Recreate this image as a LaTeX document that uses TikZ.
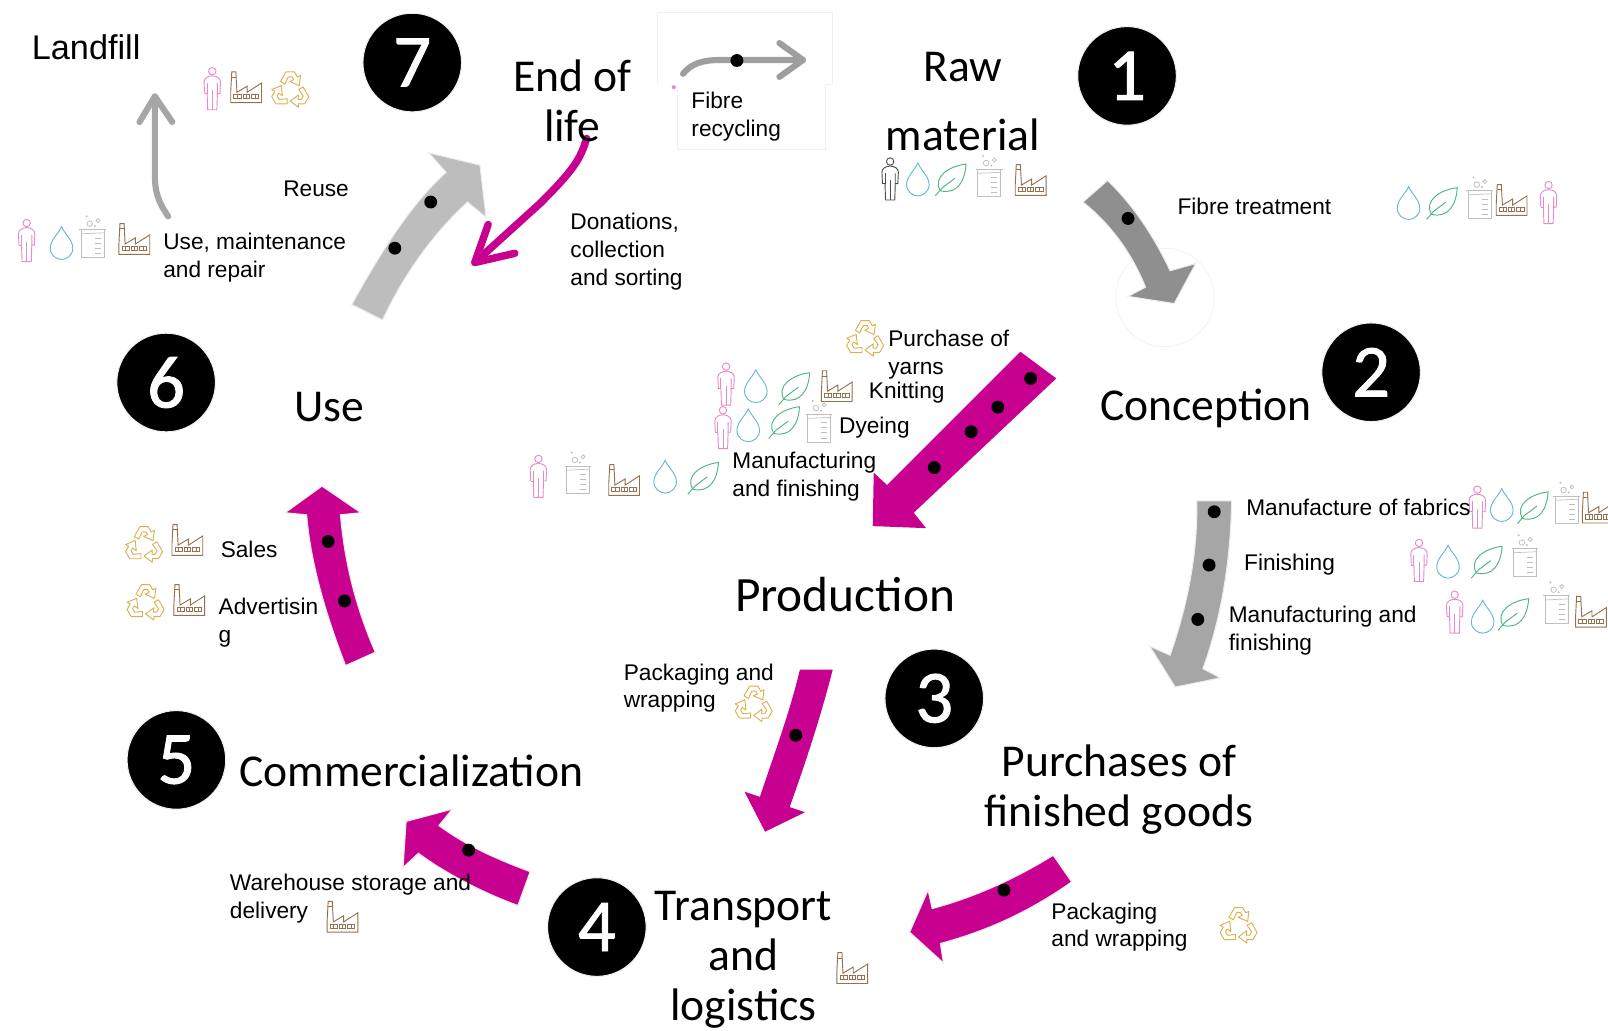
\documentclass[tikz,border=0pt]{standalone}
\usepackage{fontspec}
\setmainfont{Liberation Sans}
\newfontfamily\headfont{Carlito}
\newfontfamily\digitfont[FakeBold=1.2]{Carlito}
\definecolor{flowmagenta}{HTML}{C8008F}
\definecolor{iconpink}{HTML}{E58CC8}
\definecolor{iconblue}{HTML}{68B6DC}
\definecolor{icongreen}{HTML}{4FB57E}
\definecolor{icongrey}{HTML}{BFBFBF}
\definecolor{iconbrown}{HTML}{94714F}
\definecolor{icongold}{HTML}{DCB050}
\tikzset{
  lbl/.style={font=\fontsize{17}{20.8}\selectfont,align=left,anchor=north west,inner sep=0pt,execute at begin node=\strut},
  headlbl/.style={font=\headfont\fontsize{34.2}{37.7}\selectfont,align=center,inner sep=0pt},
  numdisc/.style={circle,fill=black,draw=black!6,line width=0.8pt,text=white,minimum size=74pt,inner sep=0pt,font=\digitfont\fontsize{56}{56}\selectfont},
  blockarrow/.style={draw=black!7,line width=0.8pt},
  flatline/.style={line width=#1,line cap=round,line join=round},
  ghost/.style={draw=black!6,line width=0.5pt},
  person/.pic={
    \draw[line width=0.7pt] (0,-16.5) circle (3.6);
    \draw[line width=0.7pt] (-7.5,5) -- (-8,-6) .. controls (-8,-10) and (-4,-12) .. (0,-12) .. controls (4,-12) and (8,-10) .. (8,-6) -- (7.5,5) -- (5,5) -- (5,-5);
    \draw[line width=0.7pt] (-5,-5) -- (-5,5) -- (-7.5,5);
    \draw[line width=0.7pt] (-5,5) -- (-4.5,21) -- (4.5,21) -- (5,5);
    \draw[line width=0.7pt] (0,21) -- (0,2);
  },
  waterdrop/.pic={
    \draw[line width=0.7pt] (0,-16) .. controls (3,-9) and (11,-3) .. (11,5) .. controls (11,12) and (5,16) .. (0,16) .. controls (-5,16) and (-11,12) .. (-11,5) .. controls (-11,-3) and (-3,-9) .. cycle;
  },
  leafshape/.pic={
    \draw[line width=0.7pt] (-10,11) .. controls (-18,-2) and (-2,-13) .. (15,-15) .. controls (14,2) and (6,15) .. (-10,11);
    \draw[line width=0.7pt] (-15,16) -- (-8,8) -- (4,-1);
  },
  beaker/.pic={
    \draw[line width=0.7pt] (-13,-7) -- (13,-7);
    \draw[line width=0.7pt] (-11,-7) -- (-11,20) -- (11,20) -- (11,-7);
    \draw[line width=0.5pt] (-11,-3) -- (11,-4);
    \foreach \ticky in {1,6,11,16} \draw[line width=0.5pt] (2,\ticky) -- (8,\ticky);
    \draw[line width=0.6pt] (-3,-13) circle (2.7);
    \draw[line width=0.6pt] (5,-16) circle (1.9);
    \fill (-6,-20) circle (1.1);
    \fill (2,-10.5) circle (1.1);
  },
  factory/.pic={
    \draw[line width=0.7pt] (-15,15) -- (-15,4) -- (-14,-15) -- (-10,-15) -- (-9,5) -- (1,-1) -- (1,5) -- (15,-4) -- (15,15) -- cycle;
    \draw[line width=0.5pt] (-14.5,-10) -- (-9.5,-10);
    \draw[line width=0.5pt] (-12,7) rectangle (-5,11) (-3,7) rectangle (3,11) (5,7) rectangle (12,11);
    \draw[line width=0.5pt] (-8.5,7) -- (-8.5,11) (0,7) -- (0,11) (8.5,7) -- (8.5,11);
  },
  recycle/.pic={
    \foreach \turn in {0,120,240}
      \draw[line width=0.7pt,line join=round,shift={(0,3.5)},rotate=\turn] (-9.5,-9) -- (-4,-18.5) -- (4,-18.5) -- (7,-13.3) -- (10,-15) -- (8.8,-5) -- (-0.4,-9) -- (3.5,-10.9) -- (2,-13.5) -- (-2,-13.5) -- (-5.2,-6.5) -- cycle;
  },
}

\begin{document}
\begin{tikzpicture}[x=0.7691pt,y=0.7691pt,yscale=-1,xscale=1]
\useasboundingbox (0,0) rectangle (1568,1004.4);

%Ghost outlines
\draw[ghost] (641,82) -- (641,12) -- (812,12) -- (812,82) -- (805,82) -- (805,146) -- (660,146) -- (660,84);
\draw[ghost] (1136,290) circle (48);
\fill[iconpink] (657,85) circle (2);

%Block Arrows
\fill[blockarrow,fill=black!44] (1080,176) .. controls (1105,200) and (1125,230) .. (1141,264) -- (1166,257) -- (1145,296) -- (1100,289) -- (1117,280) .. controls (1105,250) and (1085,220) .. (1056,197) -- cycle;
\fill[blockarrow,fill=black!35] (1167,488.5) -- (1201,488.5) .. controls (1200,550) and (1190,605) .. (1173,652) -- (1190,661) -- (1146,670) -- (1121,630) -- (1141,639) .. controls (1158,590) and (1168,540) .. cycle;
\fill[flowmagenta] (995,343) -- (1030,369) -- (891,500) -- (903,515) -- (851,513) -- (852,461) -- (865,473) -- cycle;
\fill[flowmagenta] (780,653) -- (812,653) .. controls (800,700) and (785,745) .. (770,787) -- (785,792) -- (746,811) -- (726,772) -- (741,777) .. controls (755,735) and (770,695) .. cycle;
\fill[blockarrow,fill=flowmagenta] (1027,834) -- (1045,860) .. controls (1005,888) and (965,907) .. (917,920) -- (920,939) -- (887,909) -- (905,868) -- (909,886) .. controls (950,875) and (990,857) .. cycle;
\fill[blockarrow,fill=flowmagenta] (505,883) -- (517,850) .. controls (485,838) and (455,825) .. (428,805) -- (441,789) -- (396,801) -- (393,846) -- (408,832) .. controls (435,852) and (470,870) .. cycle;
\fill[blockarrow,fill=flowmagenta] (366,636) -- (337,649) .. controls (318,600) and (303,550) .. (299,502) -- (278,500) -- (314,474) -- (352,500) -- (332,502) .. controls (336,550) and (348,595) .. cycle;
\fill[blockarrow,fill=black!26] (343,297) .. controls (372,245) and (400,200) .. (435,168) -- (418,149) -- (468,161) -- (474,212) -- (456,197) .. controls (425,225) and (395,265) .. (373,312) -- cycle;

%Line Arrows
\coordinate (landfillfrom) at (164,211);
\coordinate (landfillto) at (151,94);
\draw[flatline=4.6pt,black!35] (landfillfrom) .. controls (153,195) and (151,185) .. (151,170) -- (landfillto);
\draw[flatline=4.6pt,black!35] (136,119) -- (landfillto) -- (168,119);

\coordinate (fibrefrom) at (666,72);
\coordinate (fibreto) at (783,58.5);
\draw[flatline=4.6pt,black!38] (fibrefrom) .. controls (674,62) and (685,58.5) .. (702,58.5) -- (fibreto);
\draw[flatline=4.6pt,black!38] (760,42) -- (fibreto) -- (760,75);

\coordinate (donatefrom) at (572,135);
\coordinate (donateto) at (463,256);
\draw[flatline=5.6pt,flowmagenta] (donatefrom) .. controls (566,155) and (560,165) .. (527,198) -- (donateto);
\draw[flatline=5.6pt,flowmagenta] (476,219) -- (donateto) -- (502,247);

%Black Dots
\foreach \dotx/\doty in {1100/213,1184/499,1179/551,1168/604,1005/369,973/397,947/421,911/456,776/717,979/868,457/829,320/528,336/586,420/197,385/242,718.6/59}
  \fill[black] (\dotx,\doty) circle (6.3);

%Icons
\foreach \icon/\tint/\iconx/\icony in {
  person/iconpink/207/86,factory/iconbrown/240/85,recycle/icongold/283/85,
  person/iconpink/26/234,waterdrop/iconblue/60/237,beaker/icongrey/90.5/231,factory/iconbrown/131/233,
  person/black!70/868/174,waterdrop/iconblue/895/175,leafshape/icongreen/927/175,beaker/icongrey/964.6/172,factory/iconbrown/1005/175.5,
  waterdrop/iconblue/1373.5/198,leafshape/icongreen/1406/198,beaker/icongrey/1443/193,factory/iconbrown/1474/195,person/iconpink/1510/197,
  recycle/icongold/843.6/327.6,
  person/iconpink/708/374,waterdrop/iconblue/737/376.6,leafshape/icongreen/774.5/378.5,factory/iconbrown/816/376.5,
  person/iconpink/705/416.5,waterdrop/iconblue/729.6/414.7,leafshape/icongreen/764.6/411.6,beaker/icongrey/798.6/411,
  person/iconpink/525/464,beaker/icongrey/563.6/461.5,factory/iconbrown/608.6/468,waterdrop/iconblue/648.6/464.8,leafshape/icongreen/685.6/466,
  person/iconpink/1440.6/494,waterdrop/iconblue/1464.4/492.5,leafshape/icongreen/1494.6/494.6,beaker/icongrey/1527.7/490.8,factory/iconbrown/1558/495,
  person/iconpink/1383.7/546,waterdrop/iconblue/1412/547.7,leafshape/icongreen/1449.7/547.7,beaker/icongrey/1487/542,
  person/iconpink/1418.5/596.4,waterdrop/iconblue/1445.8/601.4,leafshape/icongreen/1475.6/598.8,beaker/icongrey/1518/588,factory/iconbrown/1551.4/596.5,
  recycle/icongold/735/684,factory/iconbrown/831/944,recycle/icongold/1207.8/900,factory/iconbrown/334/894,
  recycle/icongold/140.5/528.6,factory/iconbrown/182.7/526.6,recycle/icongold/142/585,factory/iconbrown/184.6/585}
  \pic[color=\tint,yscale=-1] at (\iconx,\icony) {\icon};

% Number Discs
\node[numdisc] (disc7) at (402,61) {7};
\node[numdisc] (disc1) at (1099,74) {1};
\node[numdisc] (disc2) at (1337,363) {2};
\node[numdisc] (disc3) at (911,681) {3};
\node[numdisc] (disc4) at (582,904) {4};
\node[numdisc] (disc5) at (172,741) {5};
\node[numdisc] (disc6) at (162,373) {6};

% Heading Nodes
\node[headlbl] (endlife) at (558,98) {End of\\life};
\node[headlbl] (rawmat) at (939,99) {Raw\\[14pt]material};
\node[headlbl] (conception) at (1176,398) {Conception};
\node[headlbl] (usephase) at (321,397) {Use};
\node[headlbl,font=\headfont\fontsize{37}{40}\selectfont] (production) at (824,580) {Production};
\node[headlbl] (purchases) at (1091,770) {Purchases of\\finished goods};
\node[headlbl] (transport) at (725,936) {Transport\\and\\logistics};
\node[headlbl] (commerce) at (401,752) {Commercialization};
\node[lbl,font=\fontsize{25.7}{30}\selectfont,anchor=center,execute at begin node={}] (landfill) at (84,50) {Landfill};

% Text Node
\node[lbl] (usemaint) at (159,227) {Use, maintenance\\and repair};
\node[lbl] (reuse) at (276,172) {Reuse};
\node[lbl] (donations) at (556,208) {Donations,\\collection\\and sorting};
\node[lbl] (fibrerec) at (674,90) {Fibre\\recycling};
\node[lbl] (fibretreat) at (1148,190) {Fibre treatment};
\node[lbl] (yarns) at (866,322) {Purchase of\\yarns};
\node[lbl] (knitting) at (847,369) {Knitting};
\node[lbl] (dyeing) at (818,404) {Dyeing};
\node[lbl] (manuf) at (714,441) {Manufacturing\\and finishing};
\node[lbl] (fabrics) at (1215,483) {Manufacture of fabrics};
\node[lbl] (finishing) at (1213,537) {Finishing};
\node[lbl] (manufin) at (1198,591) {Manufacturing and\\finishing};
\node[lbl] (packwrap) at (608,647) {Packaging and\\wrapping};
\node[lbl] (sales) at (215,524) {Sales};
\node[lbl] (advert) at (213,583) {Advertisin\\g};
\node[lbl] (warehouse) at (224,852) {Warehouse storage and\\delivery};
\node[lbl] (packaging) at (1025,880) {Packaging\\and wrapping};
\end{tikzpicture}
\end{document}
